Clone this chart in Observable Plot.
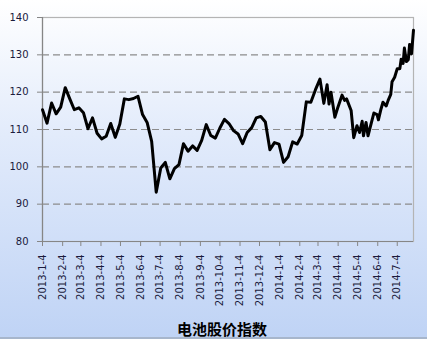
<!DOCTYPE html>
<html>
<head>
<meta charset="utf-8">
<script src="https://cdn.jsdelivr.net/npm/d3@7"></script>
<script src="https://cdn.jsdelivr.net/npm/@observablehq/plot@0.6"></script>
<style>
  html, body { margin: 0; padding: 0; }
  body { width: 427px; height: 339px; overflow: hidden; box-sizing: border-box;
         border-bottom: 2px solid #a7b6cc;
         background: linear-gradient(to bottom, #ffffff 0%, #e2ebfb 40%, #bfd3f5 100%); }
  #title { width: 427px; box-sizing: border-box; padding-left: 17px; text-align: center;
           font-family: "Noto Sans CJK SC", sans-serif; font-weight: bold; font-size: 15px;
           line-height: 17px; height: 17px; color: #000; }
</style>
</head>
<body>
<div id="chart"></div>
<div id="title">电池股价指数</div>
<script>
const dates = [
  "2013-01-04","2013-01-11","2013-01-18","2013-01-25","2013-02-01","2013-02-08","2013-02-15","2013-02-22",
  "2013-03-01","2013-03-08","2013-03-15","2013-03-22","2013-03-29","2013-04-05","2013-04-12","2013-04-19",
  "2013-04-26","2013-05-03","2013-05-10","2013-05-17","2013-05-24","2013-05-31","2013-06-07","2013-06-14",
  "2013-06-21","2013-06-28","2013-07-05","2013-07-12","2013-07-19","2013-07-26","2013-08-02","2013-08-09",
  "2013-08-16","2013-08-23","2013-08-30","2013-09-06","2013-09-13","2013-09-20","2013-09-27","2013-10-04",
  "2013-10-11","2013-10-18","2013-10-25","2013-11-01","2013-11-08","2013-11-15","2013-11-22","2013-11-29",
  "2013-12-06","2013-12-13","2013-12-20","2013-12-27","2014-01-03","2014-01-10","2014-01-17","2014-01-24",
  "2014-01-31","2014-02-07","2014-02-14","2014-02-21","2014-02-28","2014-03-07",
  "2014-03-13","2014-03-18","2014-03-21","2014-03-24","2014-03-30","2014-04-03","2014-04-10","2014-04-14",
  "2014-04-17","2014-04-24","2014-04-28","2014-05-03","2014-05-07","2014-05-11","2014-05-13","2014-05-17",
  "2014-05-20","2014-05-26","2014-05-29","2014-06-03","2014-06-05","2014-06-09","2014-06-12","2014-06-17",
  "2014-06-20","2014-06-24","2014-06-26","2014-06-30","2014-07-04","2014-07-08","2014-07-10","2014-07-13",
  "2014-07-15","2014-07-18","2014-07-21","2014-07-23","2014-07-26","2014-07-29"
];
const values = [
  115.3,111.7,117.1,114.2,116.0,121.2,118.2,115.3,
  115.8,114.5,110.2,113.1,109.0,107.5,108.2,111.6,
  107.9,111.5,118.2,118.0,118.3,118.9,114.0,111.9,
  106.8,93.2,99.7,101.2,96.8,99.5,100.6,106.2,
  104.2,105.6,104.4,107.1,111.3,108.4,107.7,110.4,
  112.7,111.6,109.7,108.8,106.2,109.2,110.5,113.1,
  113.5,112.0,104.6,106.5,106.1,101.2,102.7,106.7,
  106.1,108.4,117.4,117.3,120.6,123.5,
  117.0,122.0,116.8,120.0,113.3,115.6,119.2,117.8,
  118.2,115.1,107.8,111.0,109.2,112.2,108.3,111.9,
  108.3,112.4,114.4,114.0,112.6,115.5,117.3,116.3,
  117.8,119.4,122.8,124.0,126.3,126.3,128.8,127.7,
  131.8,128.2,128.7,132.8,130.3,136.6
];
const tickLabels = [
  "2013-1-4","2013-2-4","2013-3-4","2013-4-4","2013-5-4","2013-6-4","2013-7-4","2013-8-4","2013-9-4",
  "2013-10-4","2013-11-4","2013-12-4","2014-1-4","2014-2-4","2014-3-4","2014-4-4","2014-5-4","2014-6-4","2014-7-4"
];
const yTicks = [80, 90, 100, 110, 120, 130, 140];
const gridValues = [90, 100, 110, 120, 130];
const xStart = "2013-01-04";
const xEnd = "2014-07-29";

const parse = d3.utcParse("%Y-%m-%d");
const data = dates.map((d, i) => ({date: parse(d), value: values[i]}));
const tickDates = tickLabels.map(s => parse(s));
const fmt = d => `${d.getUTCFullYear()}-${d.getUTCMonth() + 1}-${d.getUTCDate()}`;

const chart = Plot.plot({
  width: 427,
  height: 320,
  marginLeft: 42,
  marginRight: 14,
  marginTop: 17,
  marginBottom: 79,
  style: {background: "transparent", fontFamily: "DejaVu Sans", fontSize: "10px", overflow: "visible"},
  x: {type: "utc", domain: [parse(xStart), parse(xEnd)]},
  y: {domain: [80, 140]},
  marks: [
    Plot.ruleY(gridValues, {stroke: "#8c8c8c", strokeWidth: 1.2, strokeDasharray: "7,4"}),
    Plot.frame({stroke: "#b4b4b4", strokeWidth: 1.2}),
    Plot.ruleY([80], {stroke: "#868686", strokeWidth: 1.2}),
    Plot.ruleX([parse(xStart)], {stroke: "#868686", strokeWidth: 1.2}),
    Plot.axisY({ticks: yTicks, tickSize: 5, tickPadding: 9, stroke: "#868686", fill: "#1a1a3c", label: null}),
    Plot.axisX({ticks: tickDates, tickFormat: fmt, tickRotate: -90, tickSize: 5, tickPadding: 8,
                stroke: "#868686", fill: "#1a1a3c", label: null}),
    Plot.line(data, {x: "date", y: "value", stroke: "#000", strokeWidth: 3, strokeLinejoin: "round"})
  ]
});
document.getElementById("chart").appendChild(chart);
</script>
</body>
</html>
